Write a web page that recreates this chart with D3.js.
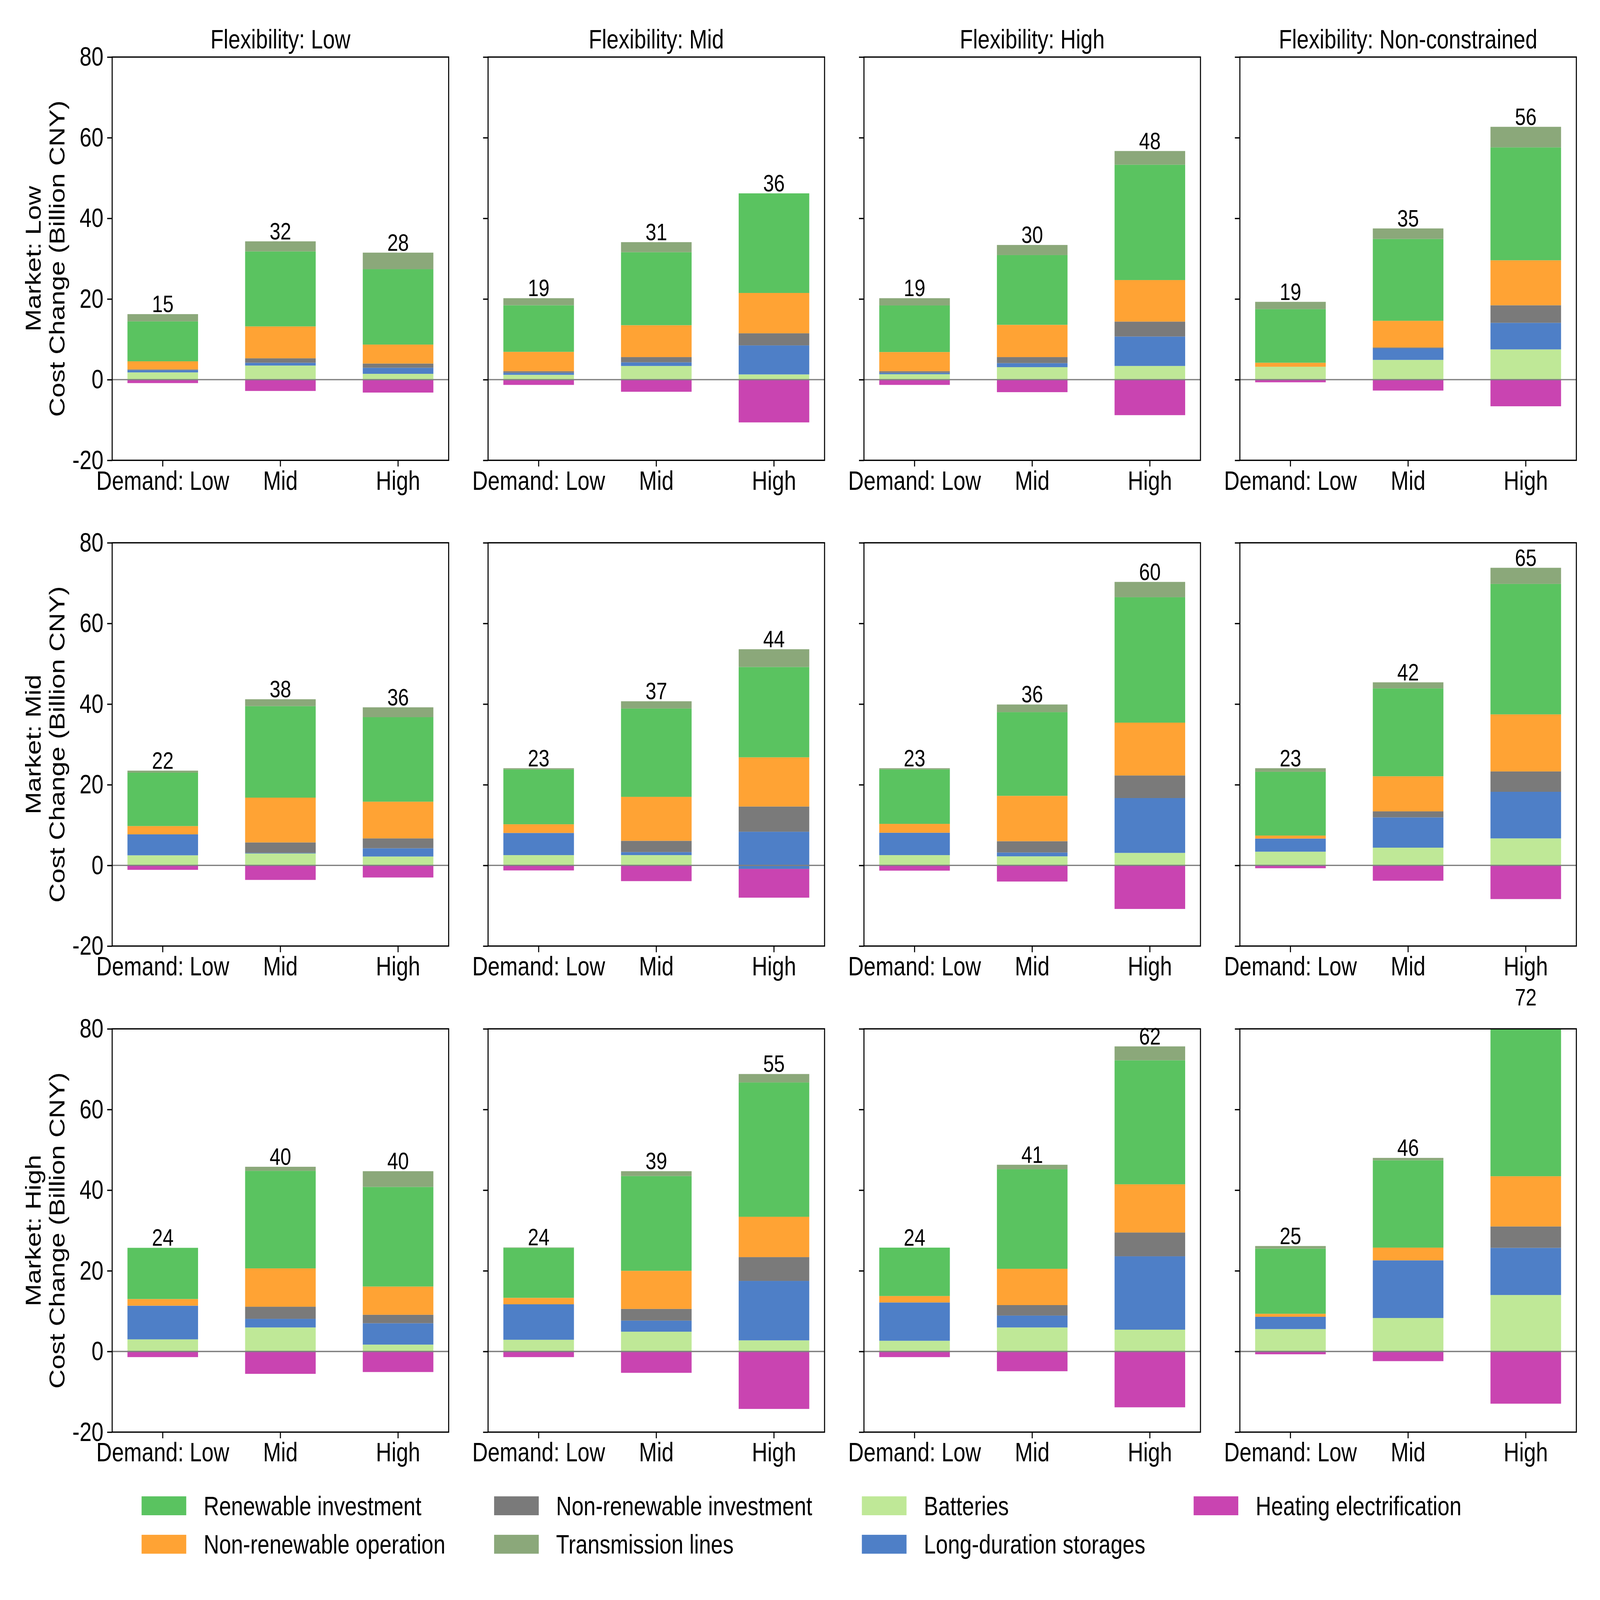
<!DOCTYPE html>
<html>
<head>
<meta charset="utf-8">
<script src="https://cdn.jsdelivr.net/npm/d3@7"></script>
<style>
  html, body { margin: 0; padding: 0; width: 100%; height: 100%; overflow: hidden; background: #fff; }
  #chart, #chart svg { display: block; width: 100vw; height: 100vh; }
  text { font-family: "Liberation Sans", Arial, Helvetica, sans-serif; fill: #000; }
</style>
</head>
<body>
<div id="chart"></div>
<script>
// Scenario axes
const markets = ["Low", "Mid", "High"];
const flexibilities = ["Low", "Mid", "High", "Non-constrained"];
const demands = ["Low", "Mid", "High"];
const demandTicks = ["Demand: Low", "Mid", "High"];
const yTicks = [-20, 0, 20, 40, 60, 80];

// Cost change by component, Billion CNY, indexed [market][flexibility][demand]
const batteries = [
  [[1.8, 3.5, 1.45], [1.2, 3.4, 1.3], [1.35, 3.1, 3.4], [3.2, 4.9, 7.5]],
  [[2.5, 2.95, 2.2], [2.55, 2.55, -0.85], [2.55, 2.25, 3.1], [3.4, 4.4, 6.7]],
  [[3.0, 5.95, 1.7], [2.9, 4.9, 2.75], [2.65, 5.95, 5.4], [5.55, 8.3, 14.0]]
];
const longDuration = [
  [[0.55, 0.7, 1.5], [0.5, 0.9, 7.2], [0.35, 1.0, 7.3], [0, 2.85, 6.6]],
  [[5.2, 0.15, 2.05], [5.5, 0.75, 9.2], [5.55, 0.95, 13.6], [3.25, 7.5, 11.55]],
  [[8.35, 2.15, 5.3], [8.8, 2.75, 14.75], [9.5, 2.95, 18.2], [3.05, 14.3, 11.7]]
];
const nonRenewableInv = [
  [[0.2, 1.1, 1.05], [0.4, 1.3, 3.0], [0.4, 1.5, 3.7], [0, 0.25, 4.35]],
  [[0, 2.6, 2.45], [0, 2.8, 6.25], [0, 2.8, 5.6], [0, 1.5, 5.05]],
  [[0, 3.0, 2.1], [0, 2.9, 5.9], [0, 2.6, 5.9], [0, 0, 5.3]]
];
const nonRenewableOp = [
  [[2.0, 7.9, 4.7], [4.8, 7.9, 10.0], [4.75, 8.0, 10.3], [1.0, 6.6, 11.15]],
  [[2.05, 11.1, 9.1], [2.15, 10.9, 12.2], [2.2, 11.25, 13.1], [0.75, 8.7, 14.15]],
  [[1.65, 9.5, 7.0], [1.6, 9.45, 10.0], [1.6, 9.0, 11.95], [0.75, 3.15, 12.45]]
];
const renewableInv = [
  [[9.9, 18.6, 18.7], [11.55, 18.1, 24.7], [11.55, 17.3, 28.6], [13.3, 20.3, 28.0]],
  [[13.25, 22.7, 20.95], [13.6, 21.9, 22.4], [13.5, 20.75, 31.1], [15.8, 21.8, 32.35]],
  [[12.7, 24.2, 24.7], [12.4, 23.5, 33.3], [12.0, 24.7, 30.75], [16.15, 21.65, 37.55]]
];
const transmission = [
  [[1.8, 2.5, 4.1], [1.75, 2.5, 0], [1.8, 2.5, 3.4], [1.8, 2.6, 5.1]],
  [[0.5, 1.7, 2.45], [0.3, 1.8, 4.4], [0.3, 1.9, 3.8], [0.9, 1.5, 4.0]],
  [[0, 1.0, 3.9], [0.1, 1.2, 2.1], [0, 1.1, 3.45], [0.65, 0.6, 4.3]]
];
const heating = [
  [[-0.85, -2.8, -3.2], [-1.3, -3.0, -10.6], [-1.3, -3.1, -8.8], [-0.65, -2.7, -6.6]],
  [[-1.1, -3.6, -3.0], [-1.25, -3.9, -8.0], [-1.3, -4.0, -10.8], [-0.7, -3.8, -8.35]],
  [[-1.4, -5.55, -5.1], [-1.4, -5.3, -14.25], [-1.4, -4.9, -13.85], [-0.7, -2.4, -12.95]]
];
// Net change printed above each bar
const netLabels = [
  [[15, 32, 28], [19, 31, 36], [19, 30, 48], [19, 35, 56]],
  [[22, 38, 36], [23, 37, 44], [23, 36, 60], [23, 42, 65]],
  [[24, 40, 40], [24, 39, 55], [24, 41, 62], [25, 46, 72]]
];

// Stack order, bottom to top
const stackSeries = [
  { name: "Batteries", values: batteries, color: "#bfe897" },
  { name: "Long-duration storages", values: longDuration, color: "#4e7fc7" },
  { name: "Non-renewable investment", values: nonRenewableInv, color: "#7a7a7a" },
  { name: "Non-renewable operation", values: nonRenewableOp, color: "#ffa334" },
  { name: "Renewable investment", values: renewableInv, color: "#5ac360" },
  { name: "Transmission lines", values: transmission, color: "#8ba87a" }
];
const heatSeries = { name: "Heating electrification", values: heating, color: "#c944b1" };

const legendOrder = [
  "Renewable investment", "Non-renewable operation",
  "Non-renewable investment", "Transmission lines",
  "Batteries", "Long-duration storages",
  "Heating electrification"
];

// Layout (in figure pixels, stretched to the window by the viewBox)
const figW = 6091, figH = 4908;
const W = 1281, H = 1237;
const colX = [427, 1858, 3289, 4720];
const rowY = [175, 1665, 3156];
const fs = 82;

const svg = d3.select("#chart")
  .append("svg")
  .attr("viewBox", `0 0 ${figW} ${figH}`)
  .attr("preserveAspectRatio", "none");

const x = d3.scaleBand()
  .domain(demands)
  .range([0, W])
  .paddingInner(0.4)
  .paddingOuter(0.13);

const y = d3.scaleLinear()
  .domain([-20, 80])
  .range([H, 0]);

markets.forEach((m, mi) => {
  flexibilities.forEach((f, fi) => {
    const g = svg.append("g")
      .attr("transform", `translate(${colX[fi]},${rowY[mi]})`);

    const clipId = `clip-${mi}-${fi}`;
    g.append("clipPath").attr("id", clipId)
      .append("rect").attr("width", W).attr("height", H);
    const bars = g.append("g").attr("clip-path", `url(#${clipId})`);

    demands.forEach((d, di) => {
      // negative part first
      const hv = heatSeries.values[mi][fi][di];
      bars.append("rect")
        .attr("x", x(d))
        .attr("width", x.bandwidth())
        .attr("y", y(0))
        .attr("height", y(hv) - y(0))
        .attr("fill", heatSeries.color);

      let cum = 0;
      stackSeries.forEach(s => {
        const v = s.values[mi][fi][di];
        const a = cum, b = cum + v;
        cum = b;
        if (v === 0) return;
        bars.append("rect")
          .attr("x", x(d))
          .attr("width", x.bandwidth())
          .attr("y", y(Math.max(a, b)))
          .attr("height", Math.abs(y(a) - y(b)))
          .attr("fill", s.color);
      });

      g.append("text")
        .attr("x", x(d) + x.bandwidth() / 2)
        .attr("y", y(cum) - 6)
        .attr("text-anchor", "middle")
        .attr("font-size", 74)
        .text(netLabels[mi][fi][di]);
    });

    // zero line
    g.append("line")
      .attr("x1", 0).attr("x2", W)
      .attr("y1", y(0)).attr("y2", y(0))
      .attr("stroke", "#808080")
      .attr("stroke-width", 4);

    // axes
    const xAxis = g.append("g")
      .attr("transform", `translate(0,${H})`)
      .call(d3.axisBottom(x)
        .tickSizeInner(19).tickSizeOuter(0).tickPadding(13)
        .tickFormat((d, i) => demandTicks[i]));
    xAxis.select(".domain").remove();
    xAxis.selectAll("line").attr("stroke-width", 4);
    xAxis.selectAll("text").attr("font-size", fs);

    const yAxis = g.append("g")
      .call(d3.axisLeft(y)
        .tickValues(yTicks)
        .tickSizeInner(19).tickSizeOuter(0).tickPadding(14)
        .tickFormat(fi === 0 ? (d => String(d)) : () => ""));
    yAxis.select(".domain").remove();
    yAxis.selectAll("line").attr("stroke-width", 4);
    yAxis.selectAll("text").attr("font-size", fs);

    // frame
    g.append("rect")
      .attr("width", W).attr("height", H)
      .attr("fill", "none")
      .attr("stroke", "#000")
      .attr("stroke-width", 4);

    if (mi === 0) {
      g.append("text")
        .attr("x", W / 2)
        .attr("y", -26)
        .attr("text-anchor", "middle")
        .attr("font-size", fs)
        .text(`Flexibility: ${f}`);
    }

    if (fi === 0) {
      g.append("text")
        .attr("transform", `translate(${155 - colX[0]},${H / 2}) rotate(-90)`)
        .attr("text-anchor", "middle")
        .attr("font-size", fs)
        .text(`Market: ${m}`);
      g.append("text")
        .attr("transform", `translate(${245 - colX[0]},${H / 2}) rotate(-90)`)
        .attr("text-anchor", "middle")
        .attr("font-size", fs)
        .text("Cost Change (Billion CNY)");
    }
  });
});

// Legend, 4 columns filled column by column
const allSeries = stackSeries.concat([heatSeries]);
const legX = [539, 1881, 3281, 4544];
const legY = [4590, 4708];
const legend = svg.append("g");
legendOrder.forEach((name, i) => {
  const s = allSeries.find(k => k.name === name);
  const cx = legX[Math.floor(i / 2)];
  const cy = legY[i % 2];
  legend.append("rect")
    .attr("x", cx).attr("y", cy)
    .attr("width", 170).attr("height", 58)
    .attr("fill", s.color);
  legend.append("text")
    .attr("x", cx + 236)
    .attr("y", cy + 29)
    .attr("dy", "0.35em")
    .attr("font-size", fs)
    .text(name);
});
</script>
</body>
</html>
